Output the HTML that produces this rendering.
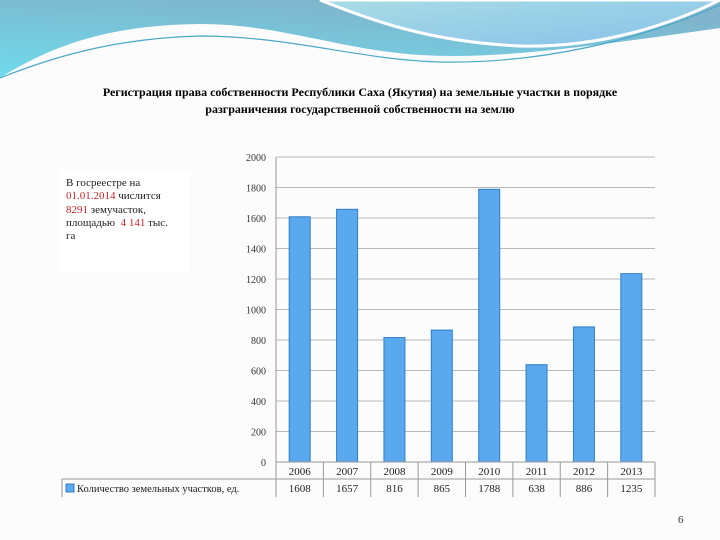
<!DOCTYPE html>
<html><head><meta charset="utf-8"><style>
body{margin:0;width:720px;height:540px;overflow:hidden;background:#fff;font-family:"Liberation Serif",serif;}
.t{position:absolute;font-family:"Liberation Serif",serif;}
</style></head><body>
<div style="position:relative;width:720px;height:540px;background:#fcfcfc">
<svg width="720" height="80" style="position:absolute;left:0;top:0">
<defs><linearGradient id="g1" x1="0" y1="1" x2="0.5" y2="0"><stop offset="0" stop-color="#6fdcec"/><stop offset="1" stop-color="#7fb4cc"/></linearGradient>
<linearGradient id="g2" x1="0" y1="0" x2="1" y2="1"><stop offset="0" stop-color="#a8dde6"/><stop offset="1" stop-color="#88c0e8"/></linearGradient></defs>
<rect x="0" y="0" width="720" height="80" fill="url(#g1)"/>
<path d="M320 0 C370 20 430 42 520 46 C600 48 670 25 720 0 Z" fill="url(#g2)" stroke="#fff" stroke-width="3"/>
<path d="M0 80 L0 78 C60 40 120 25 200 24 C280 24 340 50 420 55 C500 60 600 45 720 28 L720 80 Z" fill="#fcfcfc"/>
<path d="M0 78 C70 50 130 38 200 36 C290 36 360 60 440 62 C540 64 640 40 720 5" stroke="#4aa8c8" stroke-width="1.2" fill="none"/>
</svg>
<div class="t" style="left:40px;top:84px;width:640px;text-align:center;font-weight:bold;font-size:12px;line-height:17px">Регистрация права собственности Республики Саха (Якутия) на земельные участки в порядке<br>разграничения государственной собственности на землю</div>
<div class="t" style="left:60px;top:172px;width:124px;height:96px;background:#fff;padding:5px 0 0 6px;font-size:11px;line-height:13.3px;color:#222">В госреестре на<br><span style="color:#c0282a">01.01.2014</span> числится<br><span style="color:#c0282a">8291</span> земучасток,<br>площадью &nbsp;<span style="color:#c0282a">4 141</span> тыс.<br>га</div>
<svg id="chart" width="720" height="540" style="position:absolute;left:0;top:0"></svg>
<div class="t" style="left:678px;top:514px;font-size:11px;color:#333">6</div>
</div>
<script>
const categories=["2006","2007","2008","2009","2010","2011","2012","2013"];
const values=[1608,1657,816,865,1788,638,886,1235];
const yTicks=[0,200,400,600,800,1000,1200,1400,1600,1800,2000];
const seriesName="Количество земельных участков, ед.";
const svg=document.getElementById('chart');
const NS="http://www.w3.org/2000/svg";
const x0=276,x1=655,y0=462,yTop=157,yMax=2000;
const cw=(x1-x0)/categories.length;
const y=v=>y0-(v/yMax)*(y0-yTop);
const xc=i=>x0+cw*(i+0.5);
function mk(t,a,txt){const e=document.createElementNS(NS,t);for(const k in a)e.setAttribute(k,a[k]);if(txt!==undefined)e.textContent=txt;svg.appendChild(e);return e;}
yTicks.forEach(v=>{
 const g=mk('line',{x1:x0,x2:x1,y1:y(v),y2:y(v),stroke:v===0?'#999':'#b8b8b8','stroke-width':1});
 
 
 const t=mk('text',{x:266,y:y(v)+4,'text-anchor':'end','font-size':10,'font-family':'Liberation Serif',fill:'#333'},v);
 
 
});
const ax=mk('line',{x1:x0,x2:x0,y1:yTop,y2:y0,stroke:'#999'});


values.forEach((v,i)=>{
 const b=mk('rect',{x:xc(i)-10.5,y:y(v),width:21,height:y0-y(v),fill:'#5aa9ef',stroke:'#2f7fc8','stroke-width':1});
 
 
});
const r1=462,r2=479,r3=497,lx=62;
[[x0,r1,x1,r1],[lx,r2,x1,r2],[lx,r2,lx,r3]].forEach(l=>{const e=mk('line',{x1:l[0],y1:l[1],x2:l[2],y2:l[3],stroke:'#999'});});
for(let i=0;i<=categories.length;i++){const e=mk('line',{x1:x0+cw*i,x2:x0+cw*i,y1:r1,y2:r3,stroke:'#999'});}
categories.forEach((c,i)=>{
 const t=mk('text',{x:xc(i),y:r1+13,'text-anchor':'middle','font-size':11,'font-family':'Liberation Serif',fill:'#222'},c);
 
 
 const d=mk('text',{x:xc(i),y:r2+13,'text-anchor':'middle','font-size':11,'font-family':'Liberation Serif',fill:'#222'},values[i]);
 
 
});
const lk=mk('rect',{x:66,y:r2+5,width:8,height:8,fill:'#5aa9ef',stroke:'#2f7fc8'});


const lt=mk('text',{x:77,y:r2+13,'font-size':10.5,'font-family':'Liberation Serif',fill:'#222'},seriesName);


</script>
</body></html>
